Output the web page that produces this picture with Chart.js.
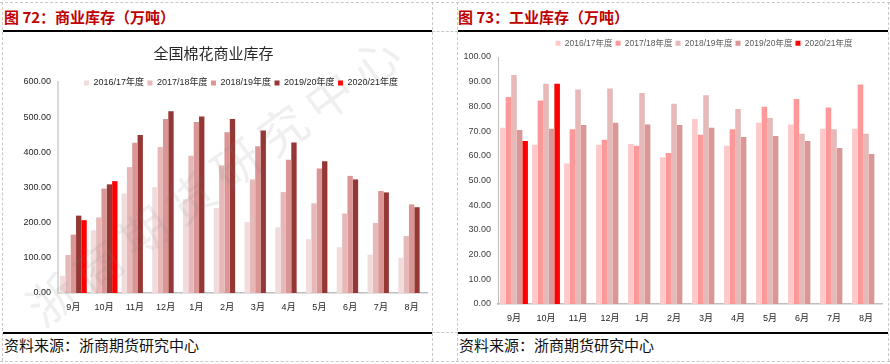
<!DOCTYPE html>
<html>
<head>
<meta charset="utf-8">
<script src="https://cdn.jsdelivr.net/npm/chart.js@4.4.0/dist/chart.umd.min.js"></script>
<style>
  html, body { margin: 0; padding: 0; background: #fff; width: 890px; height: 364px; overflow: hidden; position: relative; font-family: "Noto Sans CJK SC", sans-serif; }
  .head { position: absolute; top: 6px; font-size: 15px; font-weight: bold; color: #c00000; line-height: 22px; white-space: nowrap; }
  .src { position: absolute; top: 334px; font-size: 15px; color: #111; line-height: 22px; white-space: nowrap; }
  .rule { position: absolute; height: 2px; background: #000; }
  .dv { position: absolute; width: 0; border-left: 1px dashed #c8c8c8; }
  .dh { position: absolute; height: 0; border-top: 1px dashed #c8c8c8; }
  canvas { position: absolute; }
</style>
</head>
<body>
<div class="dh" style="left:0;top:2px;width:890px"></div>
<div class="dh" style="left:0;top:361px;width:890px"></div>
<div class="dh" style="left:432px;top:31px;width:26px"></div>
<div class="dh" style="left:432px;top:332px;width:26px"></div>
<div class="dv" style="left:2px;top:2px;height:359px"></div>
<div class="dv" style="left:432px;top:2px;height:359px"></div>
<div class="dv" style="left:457px;top:2px;height:359px"></div>
<div class="dv" style="left:888px;top:2px;height:359px"></div>

<div class="head" style="left:4px">图 72：商业库存（万吨）</div>
<div class="head" style="left:458px">图 73：工业库存（万吨）</div>
<div class="rule" style="left:3px;top:30px;width:429px"></div>
<div class="rule" style="left:458px;top:30px;width:430px"></div>

<canvas id="commChart" width="432" height="297" style="left:0;top:33px"></canvas>
<canvas id="indChart" width="430" height="297" style="left:458px;top:33px"></canvas>

<div class="rule" style="left:3px;top:332px;width:429px"></div>
<div class="rule" style="left:458px;top:332px;width:430px"></div>
<div class="src" style="left:4px">资料来源：浙商期货研究中心</div>
<div class="src" style="left:459px">资料来源：浙商期货研究中心</div>

<script>
const months = ['9月', '10月', '11月', '12月', '1月', '2月', '3月', '4月', '5月', '6月', '7月', '8月'];
const seasons = ['2016/17年度', '2017/18年度', '2018/19年度', '2019/20年度', '2020/21年度'];

const commTicks = [0, 100, 200, 300, 400, 500, 600];
const indTicks = [0, 10, 20, 30, 40, 50, 60, 70, 80, 90, 100];

// commercial stock
const comm1617 = [49, 178, 283, 301, 267, 242, 202, 187, 153, 130, 109, 100];
const comm1718 = [108, 215, 358, 415, 390, 363, 323, 287, 255, 226, 199, 162];
const comm1819 = [166, 297, 427, 495, 486, 457, 417, 379, 354, 333, 290, 252];
const comm1920 = [220, 309, 449, 517, 502, 495, 462, 428, 375, 323, 286, 244];
const comm2021 = [207, 318, null, null, null, null, null, null, null, null, null, null];

// industrial stock
const ind1617 = [71.4, 64.5, 56.9, 64.5, 64.8, 59.4, 74.9, 64.1, 73.4, 72.7, 71.0, 71.0];
const ind1718 = [83.8, 82.4, 70.7, 66.5, 64.1, 61.1, 68.5, 70.7, 79.9, 83.0, 79.6, 88.9];
const ind1819 = [92.7, 89.2, 86.8, 87.2, 85.4, 81.1, 84.5, 78.9, 75.3, 68.9, 70.7, 68.9];
const ind1920 = [70.4, 71.0, 72.5, 73.4, 72.7, 72.5, 71.4, 67.6, 68.0, 66.0, 63.2, 60.7];
const ind2021 = [66.0, 89.2, null, null, null, null, null, null, null, null, null, null];

const commColors = ['#f2dcdb', '#e6b9b8', '#d99694', '#953735', '#ff0000'];
const indColors = ['#ffc9c9', '#ff9999', '#e6b9b8', '#d99694', '#ff0000'];

const fontStack = '"Liberation Sans Narrow", "Liberation Sans", "Noto Sans CJK SC"';

// legend sits over the plot top, so it takes no layout space
const legendPlacer = {
  id: 'legendPlacer',
  beforeInit(chart) {
    const legend = chart.legend;
    const fit = legend.fit;
    legend.fit = function () {
      fit.call(this);
      this.height = 0;
    };
  },
  afterLayout(chart, args, opts) {
    const legend = chart.legend;
    const dx = opts.centerX - (legend.left + legend.right) / 2;
    legend.left += dx;
    legend.right += dx;
    legend.top = opts.top;
    legend.height = 20;
    legend.bottom = opts.top + 20;
  }
};

const watermark = {
  id: 'watermark',
  afterDraw(chart, args, opts) {
    if (!opts.text) return;
    const ctx = chart.ctx;
    const chars = Array.from(opts.text);
    ctx.save();
    ctx.fillStyle = 'rgba(120,120,120,0.12)';
    ctx.font = '48px "Noto Sans CJK SC"';
    ctx.textAlign = 'center';
    ctx.textBaseline = 'middle';
    chars.forEach((ch, i) => {
      const t = i / (chars.length - 1);
      const x = opts.x0 + (opts.x1 - opts.x0) * t;
      const y = opts.y0 + (opts.y1 - opts.y0) * t;
      ctx.save();
      ctx.translate(x, y);
      ctx.rotate(opts.angle);
      ctx.fillText(ch, 0, 0);
      ctx.restore();
    });
    ctx.restore();
  }
};

function renderStockChart(canvasId, series, colors, ticks, cfg) {
  const canvas = document.getElementById(canvasId);
  const ctx = canvas.getContext('2d');

  const data = {
    labels: months,
    datasets: series.map((values, i) => ({
      label: seasons[i],
      data: values,
      backgroundColor: colors[i],
      borderWidth: 0,
      categoryPercentage: 0.87,
      barPercentage: 1
    }))
  };

  const config = {
    type: 'bar',
    data: data,
    plugins: [legendPlacer, watermark],
    options: {
      responsive: false,
      animation: false,
      layout: { padding: cfg.padding },
      plugins: {
        title: {
          display: !!cfg.title,
          text: cfg.title,
          color: '#262626',
          font: { family: '"Noto Sans CJK SC"', size: 15, weight: 'normal' },
          padding: { top: 11, bottom: 20 }
        },
        legend: {
          position: 'top',
          labels: {
            boxWidth: 5,
            boxHeight: 5,
            padding: cfg.legendGap,
            color: cfg.legendColor,
            font: { family: fontStack, size: cfg.legendSize }
          }
        },
        legendPlacer: { centerX: cfg.legendX, top: cfg.legendY },
        watermark: cfg.watermark || {},
        tooltip: { enabled: false }
      },
      scales: {
        x: {
          grid: { display: false, drawTicks: false },
          border: { color: '#bfbfbf', width: 1.5 },
          ticks: { color: '#262626', font: { family: fontStack, size: 9 }, padding: cfg.xPad, maxRotation: 0 },
          afterFit: scale => { scale.height = cfg.xHeight; }
        },
        y: {
          min: ticks[0],
          max: ticks[ticks.length - 1],
          grid: { display: false, drawTicks: false },
          border: { color: cfg.yAxisColor, width: cfg.yAxisWidth },
          ticks: { color: cfg.tickColor, font: { family: fontStack, size: 9 }, padding: 7, callback: v => Number(v).toFixed(2) },
          afterBuildTicks: scale => { scale.ticks = ticks.map(v => ({ value: v })); },
          afterFit: scale => { scale.width = cfg.yWidth; }
        }
      }
    }
  };

  const existingChart = Chart.getChart(ctx);
  if (existingChart) {
    existingChart.destroy();
  }
  return new Chart(ctx, config);
}

renderStockChart('commChart', [comm1617, comm1718, comm1819, comm1920, comm2021], commColors, commTicks, {
  title: '全国棉花商业库存',
  padding: { top: 0, left: 0, right: 5, bottom: 7 },
  yWidth: 58,
  xHeight: 30,
  xPad: 9,
  yAxisColor: '#d9d9d9',
  yAxisWidth: 2,
  tickColor: '#1f1f1f',
  legendX: 241,
  legendY: 42,
  legendGap: 3.5,
  legendSize: 9,
  legendColor: '#1f1f1f',
  watermark: { text: '浙商期货研究中心', x0: 52, y0: 267, x1: 375, y1: 29, angle: -0.63 }
});

renderStockChart('indChart', [ind1617, ind1718, ind1819, ind1920, ind2021], indColors, indTicks, {
  title: '',
  padding: { top: 24, left: 0, right: 6, bottom: 6 },
  yWidth: 40,
  xHeight: 20,
  xPad: 9,
  yAxisColor: '#bfbfbf',
  yAxisWidth: 1,
  tickColor: '#404040',
  legendX: 246,
  legendY: 3,
  legendGap: 3,
  legendSize: 8.5,
  legendColor: '#595959'
});
</script>
</body>
</html>
